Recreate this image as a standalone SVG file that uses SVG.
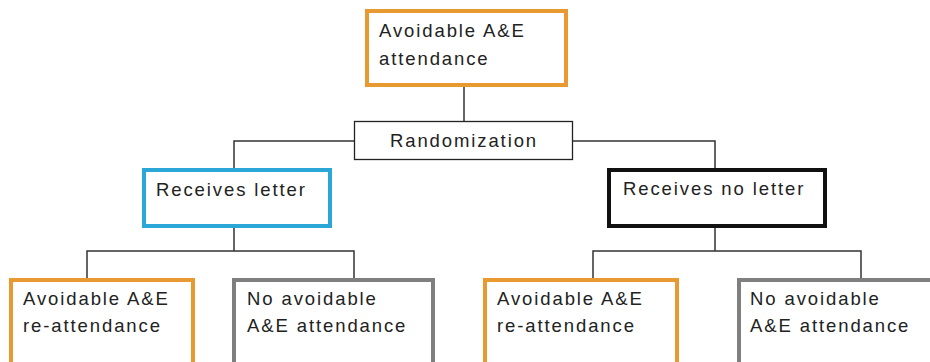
<svg xmlns="http://www.w3.org/2000/svg" width="930" height="362" viewBox="0 0 930 362">
<style>
.bg{fill:#fff}
.box{fill:#fff;stroke-width:4}
.orange{stroke:#e8992f}
.blue{stroke:#2aa7d6}
.black{stroke:#111}
.gray{stroke:#7f7f7f}
.thin{fill:#fff;stroke:#222;stroke-width:1.3}
.t{font-family:"Liberation Sans",Arial,sans-serif;font-size:18.5px;fill:#222;letter-spacing:1.9px}
.conn{fill:none;stroke:#333;stroke-width:1.5}
</style>
<rect class="bg" x="0" y="0" width="930" height="362"/>
<g id="connectors">
<path class="conn" d="M464 87V121"/>
<path class="conn" d="M354 141H234V168"/>
<path class="conn" d="M573 141H715V168"/>
<path class="conn" d="M234 228V251M87 278V251H354V278"/>
<path class="conn" d="M715 228V251M593 278V251H861V278"/>
</g>
<g id="n-top">
<rect class="box orange" x="367" y="11" width="199" height="74"/>
<text class="t" x="379" y="37">Avoidable A&amp;E</text>
<text class="t" x="379" y="65">attendance</text>
</g>
<g id="n-rand">
<rect class="thin" x="354.5" y="121.5" width="218" height="38"/>
<text class="t" x="464" y="147" text-anchor="middle">Randomization</text>
</g>
<g id="n-letter">
<rect class="box blue" x="144" y="170" width="186" height="56"/>
<text class="t" x="156" y="196">Receives letter</text>
</g>
<g id="n-noletter">
<rect class="box black" x="609" y="170" width="216" height="56"/>
<text class="t" x="623" y="195">Receives no letter</text>
</g>
<g id="n-l-re">
<rect class="box orange" x="11" y="280" width="182" height="100"/>
<text class="t" x="23" y="305">Avoidable A&amp;E</text>
<text class="t" x="23" y="332">re-attendance</text>
</g>
<g id="n-l-no">
<rect class="box gray" x="234" y="280" width="199" height="100"/>
<text class="t" x="247" y="305">No avoidable</text>
<text class="t" x="247" y="332">A&amp;E attendance</text>
</g>
<g id="n-r-re">
<rect class="box orange" x="485" y="280" width="192" height="100"/>
<text class="t" x="497" y="305">Avoidable A&amp;E</text>
<text class="t" x="497" y="332">re-attendance</text>
</g>
<g id="n-r-no">
<rect class="box gray" x="739" y="280" width="210" height="100"/>
<text class="t" x="750" y="305">No avoidable</text>
<text class="t" x="750" y="332">A&amp;E attendance</text>
</g>
</svg>
